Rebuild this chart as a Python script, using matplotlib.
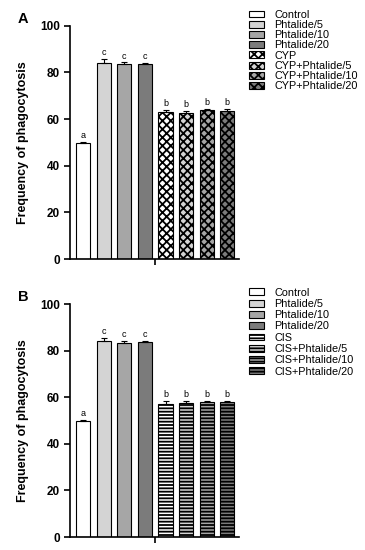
import numpy as np
import matplotlib.pyplot as plt
from matplotlib.patches import Patch

plt.rcParams['font.family'] = ['Liberation Sans', 'DejaVu Sans']
plt.rcParams['hatch.linewidth'] = 1.3

groups_a = ['Control', 'Phtalide/5', 'Phtalide/10', 'Phtalide/20',
            'CYP', 'CYP+Phtalide/5', 'CYP+Phtalide/10', 'CYP+Phtalide/20']
groups_b = ['Control', 'Phtalide/5', 'Phtalide/10', 'Phtalide/20',
            'CIS', 'CIS+Phtalide/5', 'CIS+Phtalide/10', 'CIS+Phtalide/20']

values_a = [49.8, 84.2, 83.6, 83.6, 63.2, 62.8, 63.8, 63.5]
errors_a = [0.5, 1.5, 0.7, 0.6, 0.8, 0.8, 0.5, 1.0]
letters_a = ['a', 'c', 'c', 'c', 'b', 'b', 'b', 'b']

values_b = [49.8, 84.2, 83.4, 83.6, 57.3, 57.5, 58.0, 58.0]
errors_b = [0.4, 1.3, 0.8, 0.6, 1.0, 1.1, 0.4, 0.4]
letters_b = ['a', 'c', 'c', 'c', 'b', 'b', 'b', 'b']

face_colors = ['white', '#d4d4d4', '#a6a6a6', '#7b7b7b',
               'white', '#d4d4d4', '#a6a6a6', '#7b7b7b']


def draw_panel(ax, values, errors, letters, labels, hatch, panel, leg_top, leg_step):
    x = np.arange(len(values))
    hatches = [None] * 4 + [hatch] * 4
    for i in x:
        ax.bar(i, values[i], width=0.68, color=face_colors[i], edgecolor='black',
               linewidth=0.8, hatch=hatches[i], zorder=2)
    ax.errorbar(x, values, yerr=[np.zeros(len(errors)), errors], fmt='none',
                ecolor='black', elinewidth=0.8, capsize=2.5, capthick=0.8, zorder=3)
    for i in x:
        ax.text(i, values[i] + errors[i] + 0.8, letters[i], ha='center', va='bottom',
                fontsize=6.5)
    ax.set_xlim(-0.63, 7.57)
    ax.set_ylim(0, 100)
    ax.set_yticks([0, 20, 40, 60, 80, 100])
    ax.set_xticks([3.5])
    ax.set_xticklabels([''])
    ax.tick_params(axis='both', width=1.2, length=4, labelsize=8.5)
    for t in ax.get_yticklabels():
        t.set_fontweight('bold')
    ax.spines['top'].set_visible(False)
    ax.spines['right'].set_visible(False)
    ax.spines['left'].set_linewidth(1.2)
    ax.spines['bottom'].set_linewidth(1.2)
    ax.set_ylabel('Frequency of phagocytosis', fontsize=9, fontweight='bold', labelpad=8)
    ax.text(-0.28, 1.03, panel, transform=ax.transAxes, fontsize=10.5, fontweight='bold',
            ha='center', va='center')
    handles = [Patch(facecolor=face_colors[i], edgecolor='black', linewidth=0.8,
                     hatch=hatches[i]) for i in x]
    ax.figure.legend(handles, labels, loc='upper left', bbox_to_anchor=(0.671, leg_top),
                     frameon=False, fontsize=7.8, handlelength=1.4, handleheight=0.6,
                     handletextpad=0.9, labelspacing=leg_step, borderaxespad=0)


fig = plt.figure(figsize=(3.65, 5.5), dpi=100)
ax_a = fig.add_axes([0.192, 0.529, 0.463, 0.424])
ax_b = fig.add_axes([0.192, 0.0236, 0.463, 0.4234])

draw_panel(ax_a, values_a, errors_a, letters_a, groups_a, 'xxxx', 'A', 0.99, 0.02)
draw_panel(ax_b, values_b, errors_b, letters_b, groups_b, '-----', 'B', 0.485, 0.12)

fig.savefig('out.png', dpi=100)
